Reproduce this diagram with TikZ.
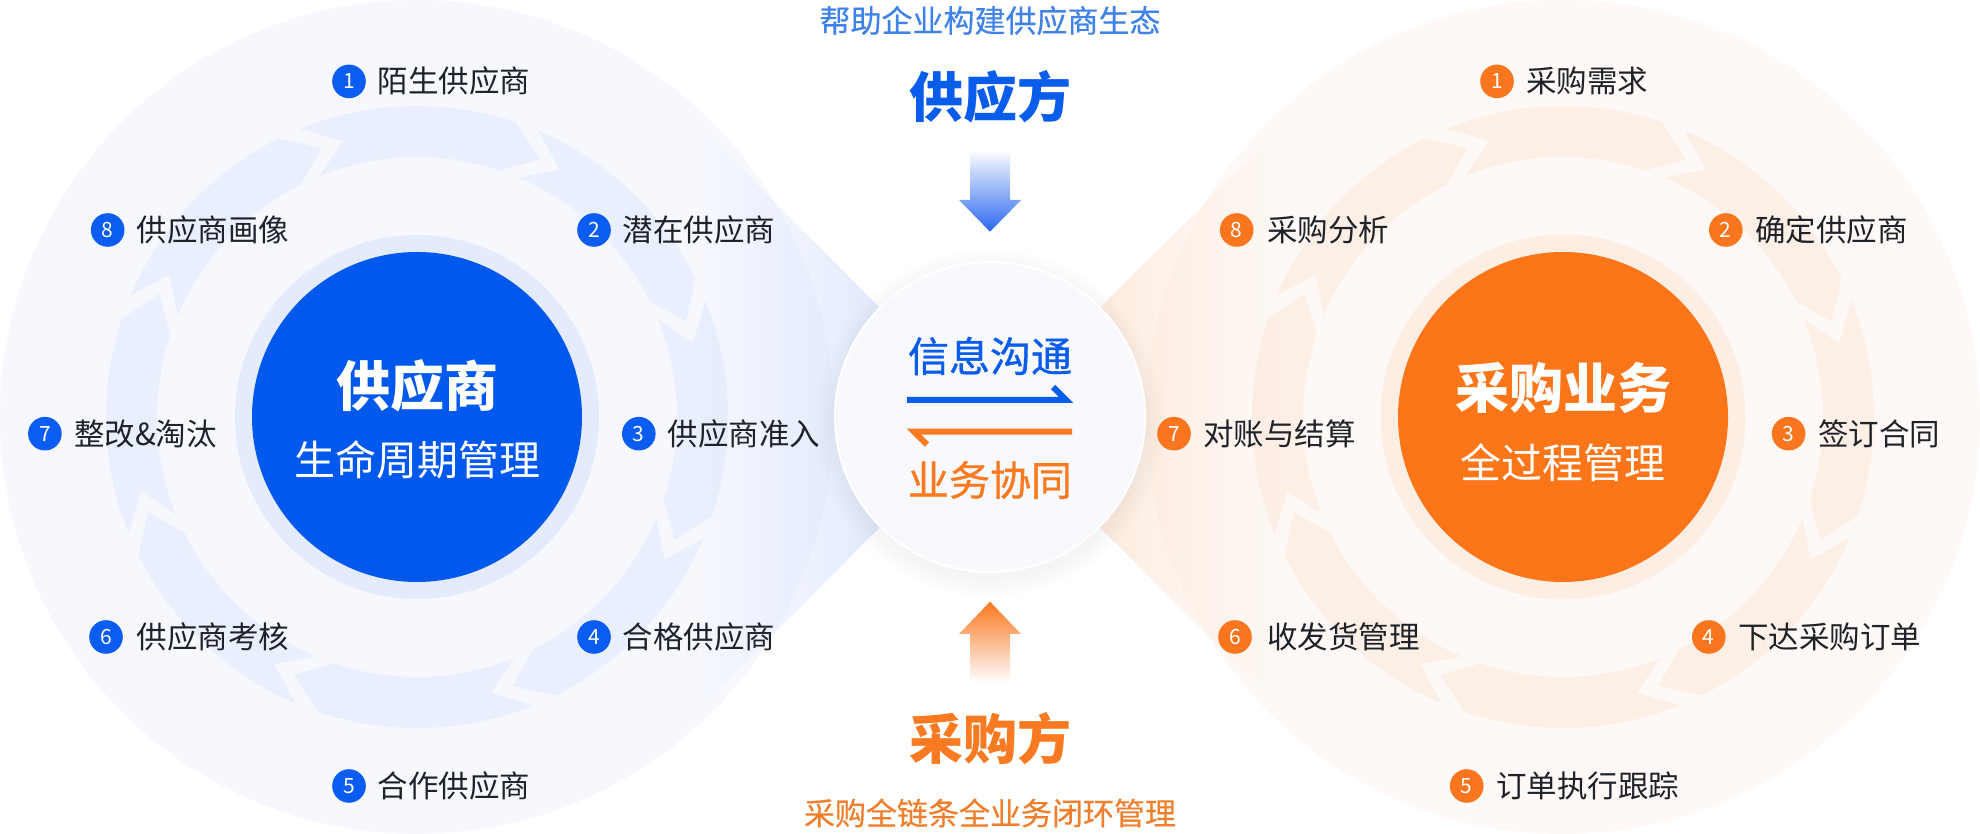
\documentclass[tikz,border=0pt]{standalone}
\usepackage{fontspec}
\setmainfont{Noto Sans CJK SC}
\usetikzlibrary{fadings}
\definecolor{cblue}{HTML}{0059EC}
\definecolor{corange}{HTML}{FD7519}
\definecolor{badgeblue}{HTML}{0B5CF0}
\definecolor{badgeorange}{HTML}{F9761E}
\definecolor{subblue}{HTML}{3F82E9}
\definecolor{suborange}{HTML}{EF7F2D}
\definecolor{titleblue}{HTML}{0A5CEB}
\definecolor{titleorange}{HTML}{F97A20}
\definecolor{haloB}{HTML}{E3EBFC}
\definecolor{haloO}{HTML}{FDEEE3}
\definecolor{ringB}{HTML}{E9EFFC}
\definecolor{ringO}{HTML}{FCEFE6}
\definecolor{diskB}{HTML}{F6F8FE}
\definecolor{diskO}{HTML}{FEF9F6}
\definecolor{wedgeB}{HTML}{CFDDFB}
\definecolor{wedgeO}{HTML}{FCE0CB}
\definecolor{centerfill}{HTML}{F7F9FC}
\definecolor{labelgray}{HTML}{1F2329}
\definecolor{arrowB}{HTML}{2A68EF}
\definecolor{arrowO}{HTML}{F9781F}
\tikzfading[name=fadeL, left color=transparent!100, right color=transparent!0]
\tikzfading[name=fadeR, left color=transparent!0, right color=transparent!100]
\tikzfading[name=fadeT, top color=transparent!100, bottom color=transparent!0]
\tikzfading[name=fadeB, top color=transparent!0, bottom color=transparent!100]
\tikzset{
  badgeB/.style={circle, fill=badgeblue, text=white, minimum size=33.6pt, inner sep=0pt, font=\fontsize{21}{21}\selectfont},
  badgeO/.style={circle, fill=badgeorange, text=white, minimum size=33.6pt, inner sep=0pt, font=\fontsize{21}{21}\selectfont},
  lbl/.style={anchor=west, inner sep=0pt, text=labelgray, font=\fontsize{30.5}{30.5}\selectfont},
  bigtitle/.style={inner sep=0pt, font=\fontsize{54}{54}\selectfont\bfseries},
  subtitle/.style={inner sep=0pt, font=\fontsize{41}{41}\selectfont},
  tagline/.style={inner sep=0pt, font=\fontsize{31}{31}\selectfont\addfontfeature{FakeBold=0.4}},
  midtext/.style={inner sep=0pt, font=\fontsize{41}{41}\selectfont\addfontfeature{FakeBold=0.8}},
  harpoon/.style={line width=6pt, line join=miter, line cap=butt},
}
\begin{document}
\begin{tikzpicture}[x=1pt,y=1pt]
\useasboundingbox (0,0) rectangle (1980,834);
\fill[white] (0,0) rectangle (1980,834);
% big pale disks
\fill[diskB] (417,417) circle[radius=417];
\fill[diskO] (1563,417) circle[radius=417];
% ring of chevron segments (left)
\begin{scope}[shift={(417,417)}]
\foreach \c in {90,45,0,-45,-90,-135,-180,-225} {
  \fill[ringB] ({\c+22}:311) arc[start angle={\c+22}, end angle={\c-18.5}, radius=311]
     -- ({\c-25.5}:285.5) -- ({\c-18.5}:260)
     arc[start angle={\c-18.5}, end angle={\c+22}, radius=260]
     -- ({\c+15}:285.5) -- cycle;
}
\end{scope}
% ring of chevron segments (right)
\begin{scope}[shift={(1563,417)}]
\foreach \c in {90,45,0,-45,-90,-135,-180,-225} {
  \fill[ringO] ({\c+22}:311) arc[start angle={\c+22}, end angle={\c-18.5}, radius=311]
     -- ({\c-25.5}:285.5) -- ({\c-18.5}:260)
     arc[start angle={\c-18.5}, end angle={\c+22}, radius=260]
     -- ({\c+15}:285.5) -- cycle;
}
\end{scope}
% wedges toward the centre
\fill[wedgeB, path fading=fadeL, fit fading=true] (990,417) -- (700,707) -- (700,127) -- cycle;
\fill[wedgeO, path fading=fadeR, fit fading=true] (990,417) -- (1280,707) -- (1280,127) -- cycle;
% halos and main circles
\fill[haloB] (417,417) circle[radius=182];
\fill[haloO] (1563,417) circle[radius=182.5];
\node[circle, fill=cblue, minimum size=330pt, inner sep=0pt] (lc) at (417,417) {};
\node[circle, fill=corange, minimum size=330pt, inner sep=0pt] (rc) at (1563,417) {};
% centre circle with soft shadow
\foreach \k in {1,...,10} \fill[black, opacity=0.004] (990,411) circle[radius={155+\k*2}];
\node[circle, fill=centerfill, draw=white, line width=2pt, minimum size=310pt, inner sep=0pt] (cc) at (990,417) {};
% circle titles
\node[bigtitle, text=white] (lt1) at (417,448) {供应商};
\node[subtitle, text=white] (lt2) at (417,374) {生命周期管理};
\node[bigtitle, text=white] (rt1) at (1563,446) {采购业务};
\node[subtitle, text=white] (rt2) at (1563,371) {全过程管理};
% top and bottom
\node[tagline, text=subblue] (top1) at (990,813.5) {帮助企业构建供应商生态};
\node[bigtitle, text=titleblue] (top2) at (990,737) {供应方};
\node[bigtitle, text=titleorange] (bot2) at (990,95) {采购方};
\node[tagline, text=suborange] (bot1) at (990,21) {采购全链条全业务闭环管理};
% vertical arrows
\fill[arrowB, path fading=fadeT, fit fading=true] (970,684) -- (1010,684) -- (1010,634) -- (1021,634) -- (990,602.3) -- (959,634) -- (970,634) -- cycle;
\fill[arrowO, path fading=fadeB, fit fading=true] (970,152) -- (1010,152) -- (1010,200) -- (1021,200) -- (990,232.3) -- (959,200) -- (970,200) -- cycle;
% centre texts and harpoons
\node[midtext, text=titleblue] (m1) at (990,478) {信息沟通};
\node[midtext, text=titleorange] (m2) at (990,354) {业务协同};
\coordinate (hb1) at (907,434);
\coordinate (hb2) at (1066,434);
\coordinate (hb3) at (1053,447);
\draw[harpoon, titleblue] (hb1) -- (hb2) -- (hb3);
\coordinate (ho1) at (1072,402.3);
\coordinate (ho2) at (914,402.3);
\coordinate (ho3) at (927,389.3);
\draw[harpoon, titleorange] (ho1) -- (ho2) -- (ho3);
% left labels
\node[badgeB] (lb1) at (349,752.6) {1}; \node[lbl] (ll1) at (377.6,752.6) {陌生供应商};
\node[badgeB] (lb2) at (594,604) {2};   \node[lbl] (ll2) at (622.4,604) {潜在供应商};
\node[badgeB] (lb3) at (638.8,400.3) {3}; \node[lbl] (ll3) at (667.3,400.3) {供应商准入};
\node[badgeB] (lb4) at (594,197) {4};   \node[lbl] (ll4) at (622.4,197) {合格供应商};
\node[badgeB] (lb5) at (349,48) {5};    \node[lbl] (ll5) at (377.6,48) {合作供应商};
\node[badgeB] (lb6) at (106,197) {6};   \node[lbl] (ll6) at (136.7,197) {供应商考核};
\node[badgeB] (lb7) at (44.9,400.3) {7}; \node[lbl] (ll7) at (74,400.3) {整改\&淘汰};
\node[badgeB] (lb8) at (107.7,604) {8}; \node[lbl] (ll8) at (136.7,604) {供应商画像};
% right labels
\node[badgeO] (rb1) at (1497,752.6) {1}; \node[lbl] (rl1) at (1526,752.6) {采购需求};
\node[badgeO] (rb2) at (1725.8,604) {2}; \node[lbl] (rl2) at (1755,604) {确定供应商};
\node[badgeO] (rb3) at (1788.6,400.3) {3}; \node[lbl] (rl3) at (1818,400.3) {签订合同};
\node[badgeO] (rb4) at (1708.8,197) {4}; \node[lbl] (rl4) at (1738,197) {下达采购订单};
\node[badgeO] (rb5) at (1466.7,48) {5};  \node[lbl] (rl5) at (1496,48) {订单执行跟踪};
\node[badgeO] (rb6) at (1235,197) {6};   \node[lbl] (rl6) at (1267,197) {收发货管理};
\node[badgeO] (rb7) at (1174,400.3) {7}; \node[lbl] (rl7) at (1203,400.3) {对账与结算};
\node[badgeO] (rb8) at (1236.7,604) {8}; \node[lbl] (rl8) at (1267,604) {采购分析};
\end{tikzpicture}
\end{document}
